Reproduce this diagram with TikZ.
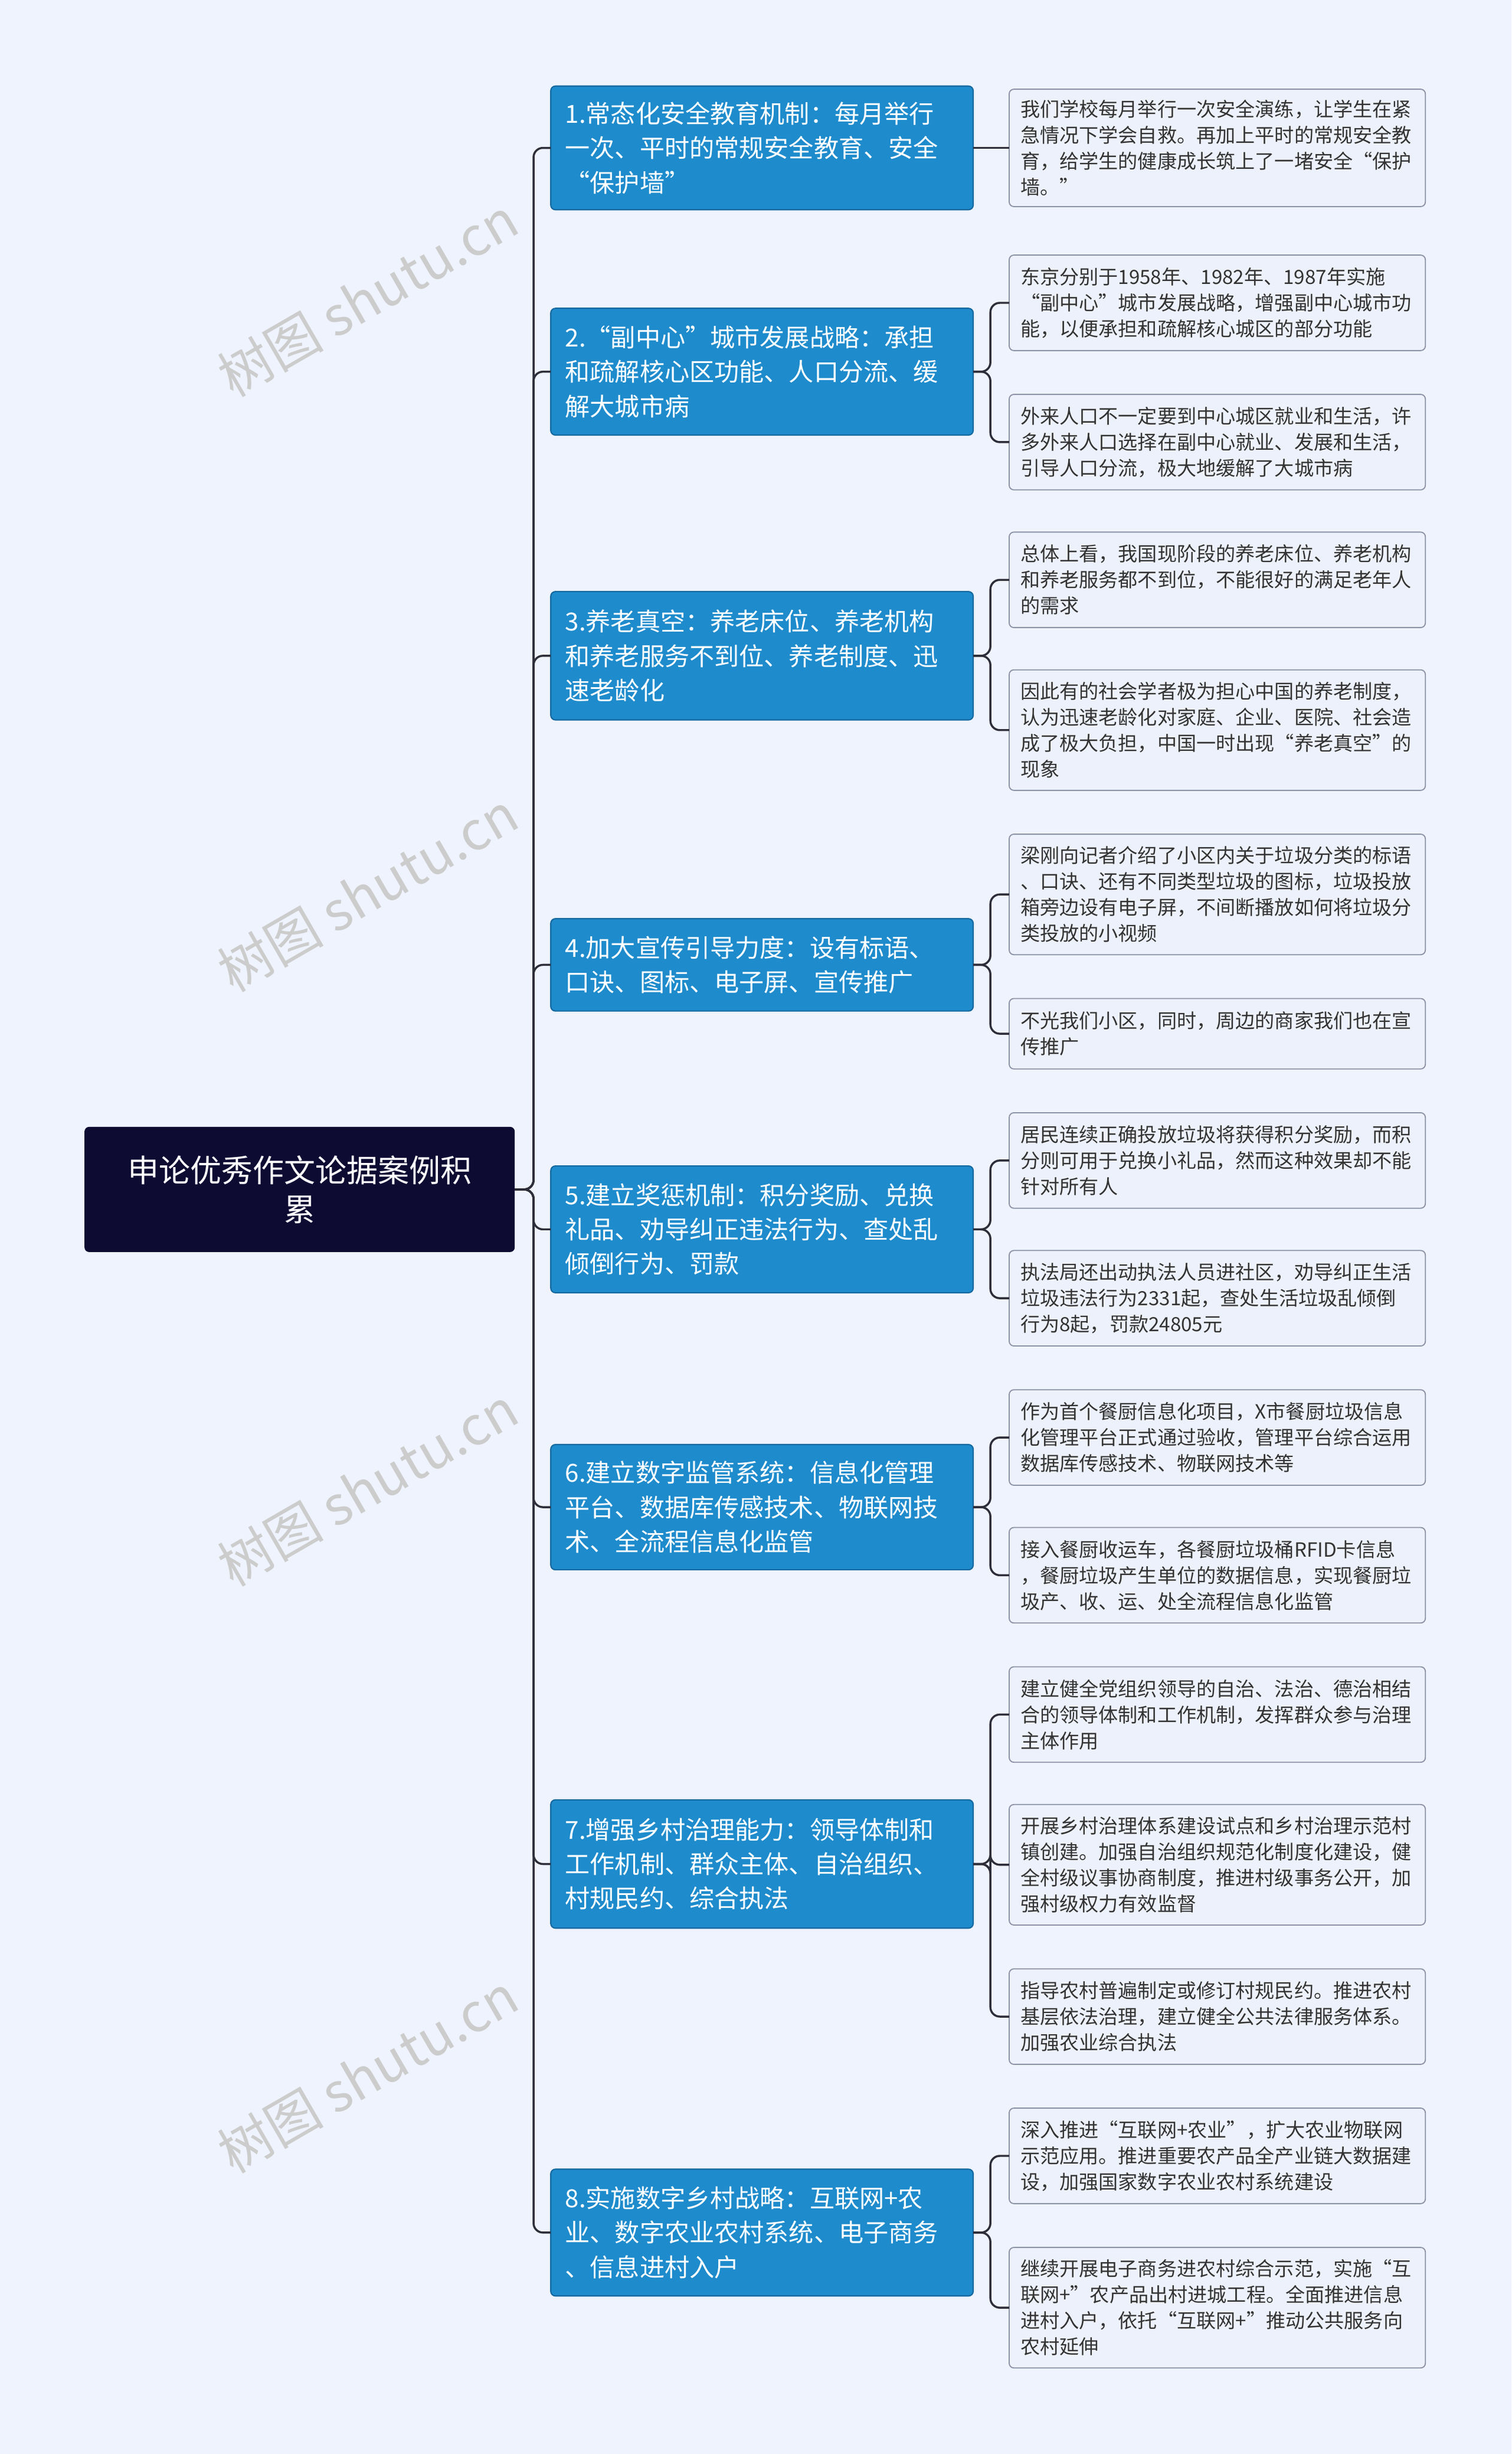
\documentclass[tikz,border=0pt]{standalone}
\usepackage{fontspec}
\setmainfont{Noto Sans CJK SC}
\begin{document}
\begin{tikzpicture}[x=1pt,y=-1pt,
 root/.style={text=white,font=\fontsize{20}{25}\selectfont,align=center,text width=255pt,inner sep=0pt},
 br/.style={text=white,font=\fontsize{15.9}{22}\selectfont,align=left,text width=256pt,inner sep=0pt},
 lf/.style={text=txt,font=\fontsize{12.5}{16.6}\selectfont,align=left,text width=256pt,inner sep=0pt},
 ln/.style={draw=lnc,line width=1.3pt,rounded corners=6pt},
 wm/.style={text=gray!40,font=\fontsize{34}{34}\selectfont,rotate=30}]
\definecolor{bg}{HTML}{EEF3FD}
\definecolor{rootc}{HTML}{0E0B33}
\definecolor{brc}{HTML}{1E8BCC}
\definecolor{brd}{HTML}{1669A0}
\definecolor{lfc}{HTML}{EDF1FB}
\definecolor{lfd}{HTML}{8C93A6}
\definecolor{txt}{HTML}{333333}
\definecolor{lnc}{HTML}{2E2E3A}
\fill[bg] (0,0) rectangle (966,1568);
\useasboundingbox (0,0) rectangle (966,1568);
\foreach \y in {190,570,950,1325}{\node[wm] at (235,\y) {树图 shutu.cn};}
% root
\fill[rootc,rounded corners=3pt] (54,720) rectangle (329,800);
\node[root] (R) at (191.5,760) {申论优秀作文论据案例积\\累};
\coordinate (Rr) at (329,760);
\newcommand{\mybr}[4]{\filldraw[fill=brc,draw=brd,line width=0.8pt,rounded corners=3pt] (352,#2) rectangle (622,#3);
 \node[br,anchor=west] (#1) at (361,{(#2+#3)/2}) {#4};
 \coordinate (#1l) at (352,{(#2+#3)/2}); \coordinate (#1r) at (622,{(#2+#3)/2});
 \draw[ln] (Rr) -- (341,760) -- (341,{(#2+#3)/2}) -- (#1l);}
\newcommand{\mylf}[4]{\filldraw[fill=lfc,draw=lfd,line width=0.7pt,rounded corners=3pt] (645,#2) rectangle (911,#3);
 \node[lf,anchor=west] (#1) at (652,{(#2+#3)/2}) {#4};
 \coordinate (#1l) at (645,{(#2+#3)/2});}
\mybr{B1}{55}{134}{1.常态化安全教育机制：每月举行\\一次、平时的常规安全教育、安全\\“保护墙”}
\mybr{B2}{197}{278}{2.“副中心”城市发展战略：承担\\和疏解核心区功能、人口分流、缓\\解大城市病}
\mybr{B3}{378}{460}{3.养老真空：养老床位、养老机构\\和养老服务不到位、养老制度、迅\\速老龄化}
\mybr{B4}{587}{646}{4.加大宣传引导力度：设有标语、\\口诀、图标、电子屏、宣传推广}
\mybr{B5}{745}{826}{5.建立奖惩机制：积分奖励、兑换\\礼品、劝导纠正违法行为、查处乱\\倾倒行为、罚款}
\mybr{B6}{923}{1003}{6.建立数字监管系统：信息化管理\\平台、数据库传感技术、物联网技\\术、全流程信息化监管}
\mybr{B7}{1150}{1232}{7.增强乡村治理能力：领导体制和\\工作机制、群众主体、自治组织、\\村规民约、综合执法}
\mybr{B8}{1386}{1467}{8.实施数字乡村战略：互联网+农\\业、数字农业农村系统、电子商务\\、信息进村入户}
\mylf{L1}{57}{132}{我们学校每月举行一次安全演练，让学生在紧\\急情况下学会自救。再加上平时的常规安全教\\育，给学生的健康成长筑上了一堵安全“保护\\墙。”}
\mylf{L2a}{163}{224}{东京分别于1958年、1982年、1987年实施\\“副中心”城市发展战略，增强副中心城市功\\能，以便承担和疏解核心城区的部分功能}
\mylf{L2b}{252}{313}{外来人口不一定要到中心城区就业和生活，许\\多外来人口选择在副中心就业、发展和生活，\\引导人口分流，极大地缓解了大城市病}
\mylf{L3a}{340}{401}{总体上看，我国现阶段的养老床位、养老机构\\和养老服务都不到位，不能很好的满足老年人\\的需求}
\mylf{L3b}{428}{505}{因此有的社会学者极为担心中国的养老制度，\\认为迅速老龄化对家庭、企业、医院、社会造\\成了极大负担，中国一时出现“养老真空”的\\现象}
\mylf{L4a}{533}{610}{梁刚向记者介绍了小区内关于垃圾分类的标语\\、口诀、还有不同类型垃圾的图标，垃圾投放\\箱旁边设有电子屏，不间断播放如何将垃圾分\\类投放的小视频}
\mylf{L4b}{638}{683}{不光我们小区，同时，周边的商家我们也在宣\\传推广}
\mylf{L5a}{711}{772}{居民连续正确投放垃圾将获得积分奖励，而积\\分则可用于兑换小礼品，然而这种效果却不能\\针对所有人}
\mylf{L5b}{799}{860}{执法局还出动执法人员进社区，劝导纠正生活\\垃圾违法行为2331起，查处生活垃圾乱倾倒\\行为8起，罚款24805元}
\mylf{L6a}{888}{949}{作为首个餐厨信息化项目，X市餐厨垃圾信息\\化管理平台正式通过验收，管理平台综合运用\\数据库传感技术、物联网技术等}
\mylf{L6b}{976}{1037}{接入餐厨收运车，各餐厨垃圾桶RFID卡信息\\，餐厨垃圾产生单位的数据信息，实现餐厨垃\\圾产、收、运、处全流程信息化监管}
\mylf{L7a}{1065}{1126}{建立健全党组织领导的自治、法治、德治相结\\合的领导体制和工作机制，发挥群众参与治理\\主体作用}
\mylf{L7b}{1153}{1230}{开展乡村治理体系建设试点和乡村治理示范村\\镇创建。加强自治组织规范化制度化建设，健\\全村级议事协商制度，推进村级事务公开，加\\强村级权力有效监督}
\mylf{L7c}{1258}{1319}{指导农村普遍制定或修订村规民约。推进农村\\基层依法治理，建立健全公共法律服务体系。\\加强农业综合执法}
\mylf{L8a}{1347}{1408}{深入推进“互联网+农业”，扩大农业物联网\\示范应用。推进重要农产品全产业链大数据建\\设，加强国家数字农业农村系统建设}
\mylf{L8b}{1436}{1513}{继续开展电子商务进农村综合示范，实施“互\\联网+”农产品出村进城工程。全面推进信息\\进村入户，依托“互联网+”推动公共服务向\\农村延伸}
\draw[ln] (B1r) -- (L1l);
\foreach \b/\l in {B2/L2a,B2/L2b,B3/L3a,B3/L3b,B4/L4a,B4/L4b,B5/L5a,B5/L5b,B6/L6a,B6/L6b,B7/L7a,B7/L7b,B7/L7c,B8/L8a,B8/L8b}{
 \draw[ln] (\b r) -- (633,0 |- \b r) -- (633,0 |- \l l) -- (\l l);}
\end{tikzpicture}
\end{document}
